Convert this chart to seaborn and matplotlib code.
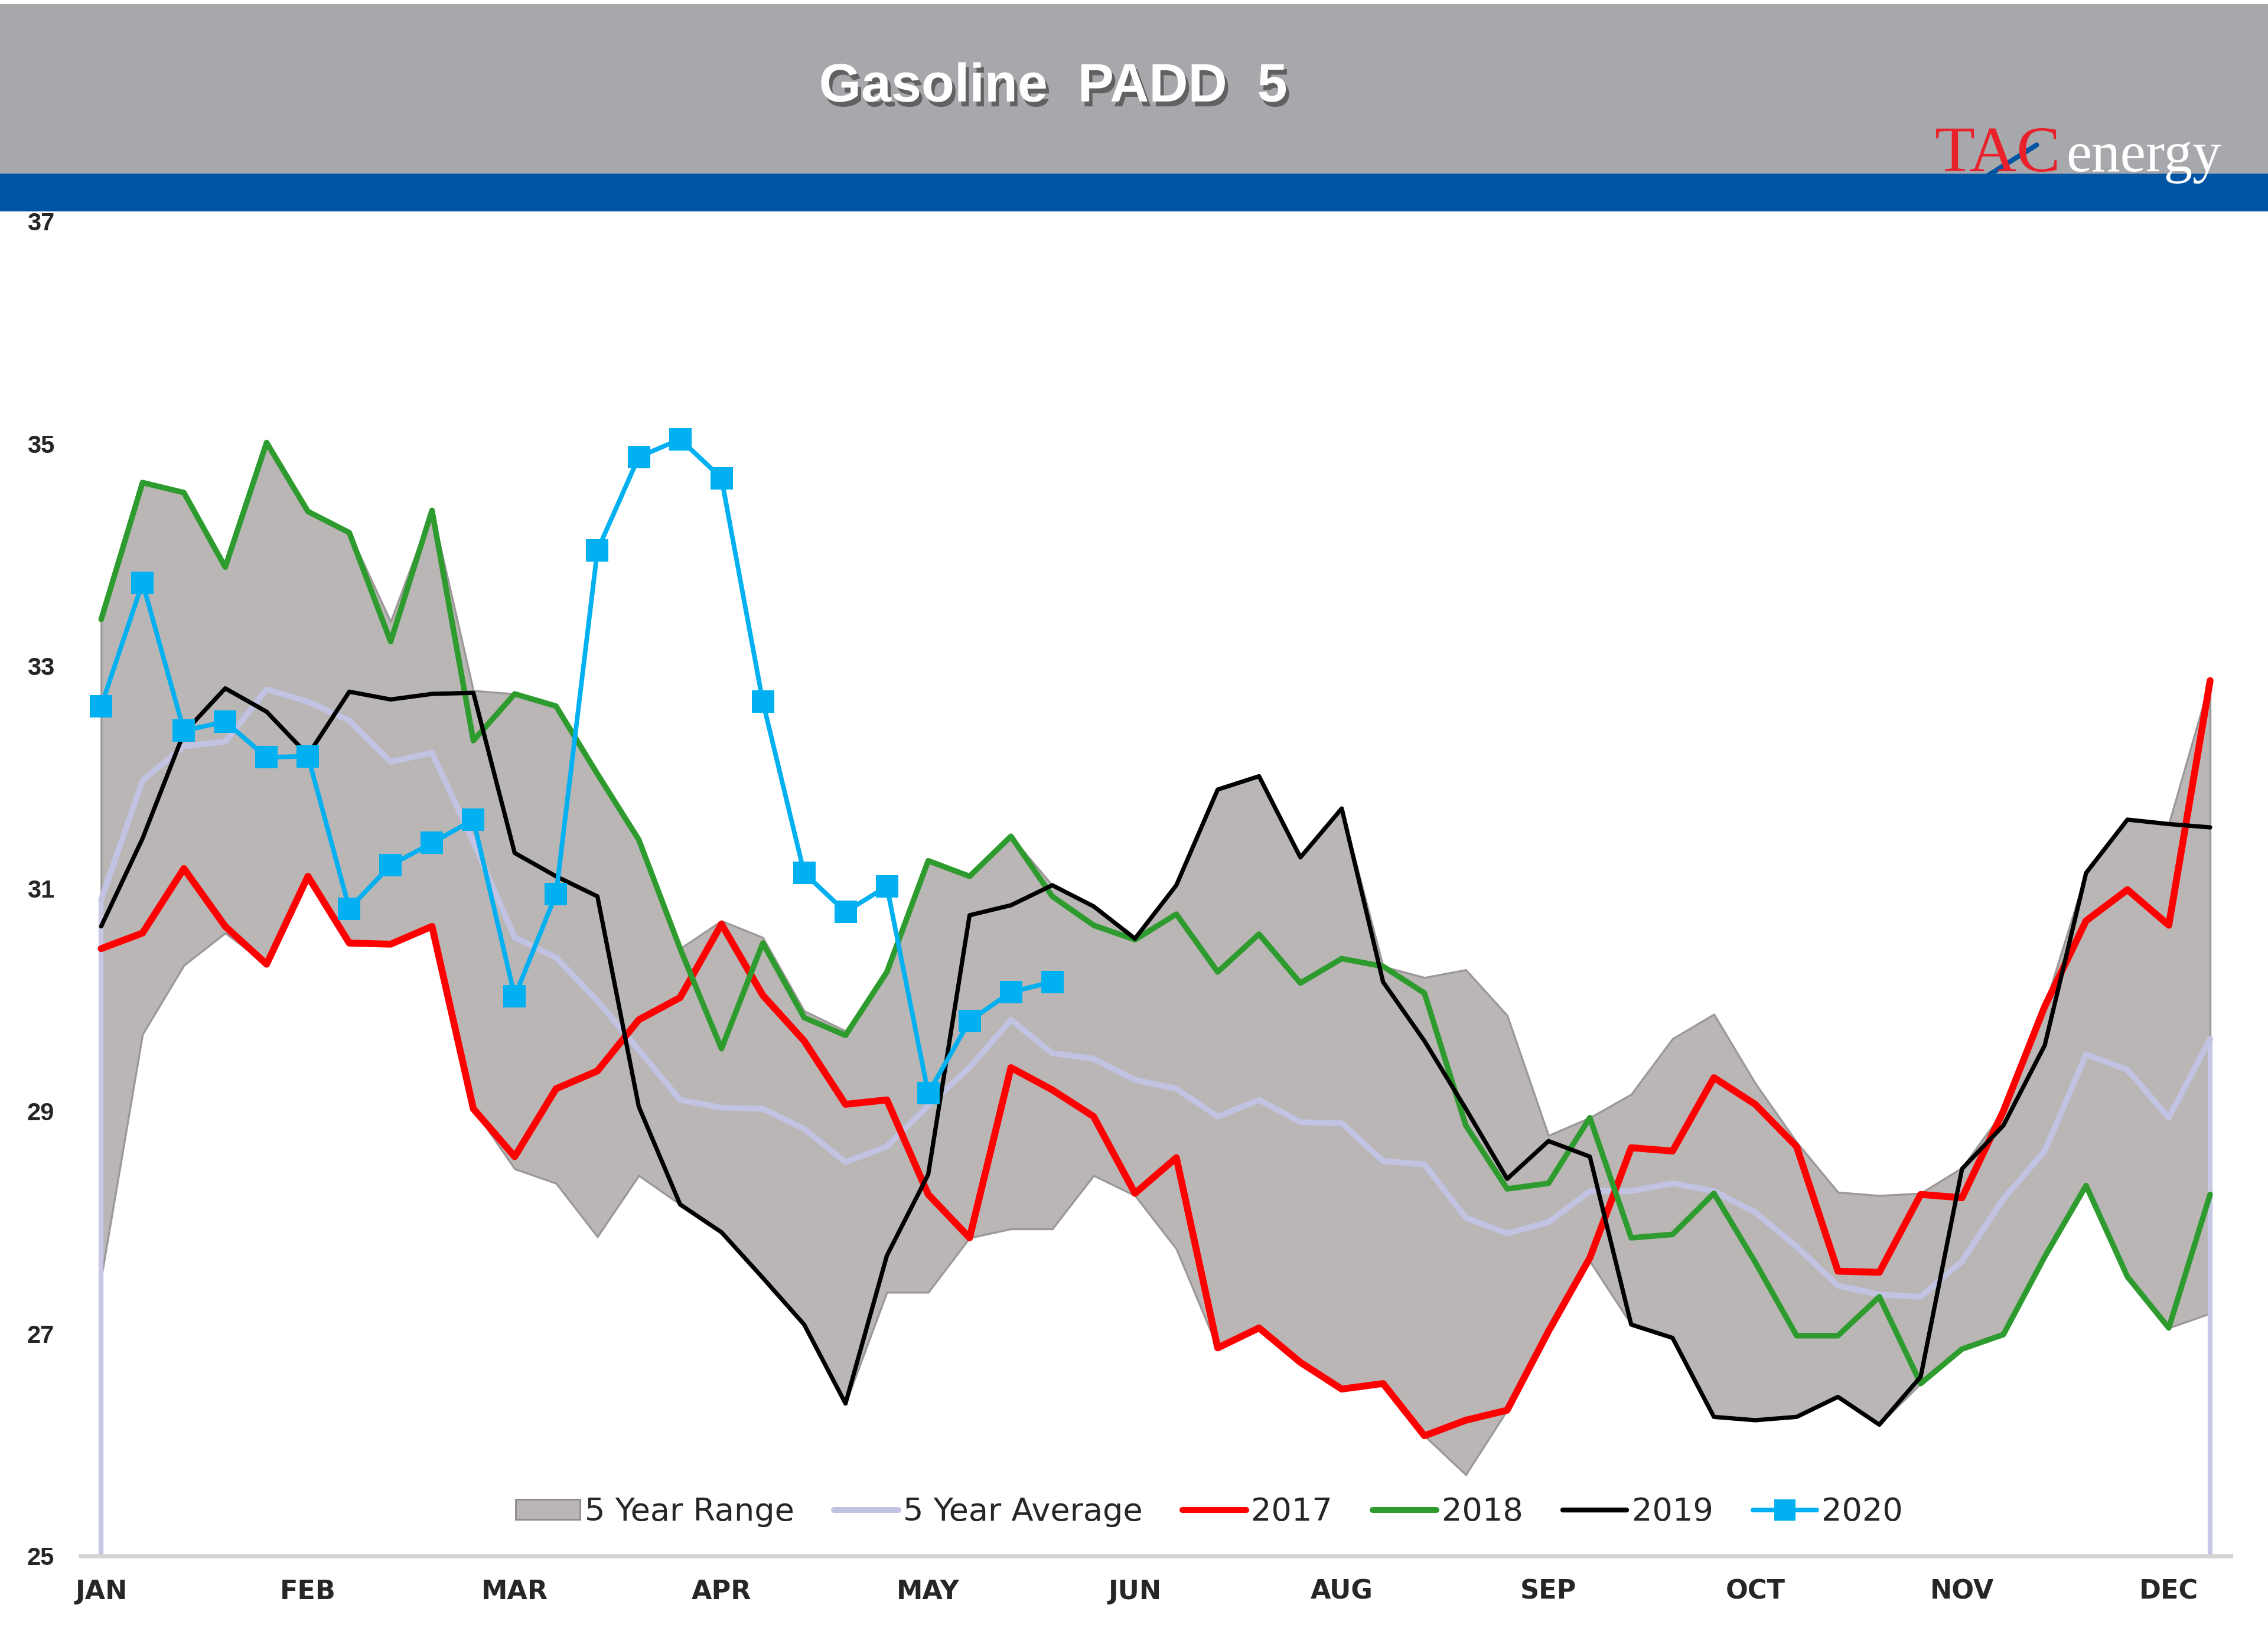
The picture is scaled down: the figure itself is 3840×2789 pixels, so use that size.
import matplotlib
matplotlib.use('Agg')
import matplotlib.pyplot as plt
import matplotlib.patheffects as pe
from matplotlib.patches import Rectangle, Patch
from matplotlib.lines import Line2D
import seaborn as sns

# weekly values (52 weeks)
weeks = list(range(52))
month_labels = ['JAN', 'FEB', 'MAR', 'APR', 'MAY', 'JUN', 'AUG', 'SEP', 'OCT', 'NOV', 'DEC']
y_ticks = [25, 27, 29, 31, 33, 35, 37]

range_hi = [33.42, 34.65, 34.56, 33.89, 35.01, 34.39, 34.20, 33.40, 34.40, 32.78,
            32.75, 32.64, 32.03, 31.44, 30.46, 30.71, 30.56, 29.90, 29.72, 30.25,
            31.25, 31.11, 31.47, 31.03, 30.84, 30.56, 31.03, 31.89, 32.01, 31.28,
            31.72, 30.30, 30.20, 30.27, 29.86, 28.78, 28.94, 29.15, 29.65, 29.87,
            29.25, 28.72, 28.27, 28.24, 28.26, 28.49, 29.00, 29.94, 31.14, 31.62,
            31.58, 32.87]
range_lo = [27.50, 29.69, 30.31, 30.60, 30.32, 31.11, 30.51, 30.50, 30.66, 29.02,
            28.48, 28.35, 27.87, 28.42, 28.16, 27.91, 27.50, 27.08, 26.37, 27.37,
            27.37, 27.86, 27.94, 27.94, 28.42, 28.24, 27.76, 26.87, 27.05, 26.74,
            26.50, 26.55, 26.08, 25.73, 26.31, 27.02, 27.65, 27.08, 26.96, 26.25,
            26.22, 26.25, 26.43, 26.18, 26.55, 26.86, 26.99, 27.69, 28.33, 27.51,
            27.05, 27.18]
avg5 = [30.90, 31.97, 32.28, 32.32, 32.79, 32.68, 32.51, 32.14, 32.22, 31.42,
        30.56, 30.38, 29.99, 29.55, 29.10, 29.03, 29.02, 28.84, 28.54, 28.68,
        29.05, 29.39, 29.82, 29.52, 29.47, 29.28, 29.20, 28.95, 29.10, 28.90,
        28.89, 28.55, 28.52, 28.04, 27.90, 28.00, 28.28, 28.28, 28.35, 28.28,
        28.09, 27.78, 27.43, 27.35, 27.33, 27.65, 28.21, 28.64, 29.51, 29.37,
        28.94, 29.65]
y2017 = [30.46, 30.60, 31.18, 30.66, 30.32, 31.11, 30.51, 30.50, 30.66, 29.02,
         28.59, 29.20, 29.36, 29.82, 30.02, 30.68, 30.04, 29.63, 29.06, 29.10,
         28.25, 27.86, 29.39, 29.19, 28.95, 28.26, 28.58, 26.87, 27.05, 26.74,
         26.50, 26.55, 26.08, 26.22, 26.31, 27.02, 27.68, 28.67, 28.64, 29.30,
         29.06, 28.68, 27.56, 27.55, 28.25, 28.22, 29.00, 29.94, 30.71, 30.99,
         30.67, 32.87]
y2018 = [33.42, 34.65, 34.56, 33.89, 35.01, 34.39, 34.20, 33.22, 34.40, 32.33,
         32.75, 32.64, 32.03, 31.44, 30.46, 29.56, 30.51, 29.84, 29.68, 30.25,
         31.25, 31.11, 31.47, 30.93, 30.67, 30.54, 30.77, 30.25, 30.59, 30.15,
         30.37, 30.30, 30.06, 28.87, 28.30, 28.35, 28.94, 27.86, 27.89, 28.26,
         27.64, 26.98, 26.98, 27.33, 26.55, 26.86, 26.99, 27.69, 28.33, 27.51,
         27.05, 28.25]
y2019 = [30.66, 31.45, 32.40, 32.80, 32.59, 32.20, 32.77, 32.70, 32.75, 32.76,
         31.32, 31.11, 30.93, 29.04, 28.16, 27.91, 27.50, 27.08, 26.37, 27.70,
         28.43, 30.76, 30.85, 31.03, 30.84, 30.55, 31.03, 31.89, 32.01, 31.28,
         31.72, 30.16, 29.63, 29.02, 28.39, 28.73, 28.59, 27.08, 26.96, 26.25,
         26.22, 26.25, 26.43, 26.18, 26.61, 28.48, 28.87, 29.59, 31.14, 31.62,
         31.58, 31.55]
y2020 = [32.64, 33.75, 32.42, 32.50, 32.18, 32.19, 30.82, 31.21, 31.41, 31.62,
         30.03, 30.95, 34.04, 34.88, 35.04, 34.69, 32.68, 31.14, 30.79, 31.02,
         29.16, 29.81, 30.07, 30.16]

sns.set_style('white')
plt.rcParams['font.family'] = ['DejaVu Sans']

fig = plt.figure(figsize=(19.2, 13.945), dpi=200)

# header band
fig.patches.append(Rectangle((0, 0.8946), 1, 0.1028, transform=fig.transFigure,
                             facecolor='#A7A8AC', edgecolor='none', zorder=0))
fig.patches.append(Rectangle((0, 0.8718), 1, 0.0228, transform=fig.transFigure,
                             facecolor='#0054A4', edgecolor='none', zorder=0))
fig.text(0.4643, 0.947, 'Gasoline  PADD  5', ha='center', va='center', color='white',
         fontsize=33, fontweight='bold', family='Liberation Sans',
         path_effects=[pe.SimplePatchShadow(offset=(2, -3), shadow_rgbFace='#5a5a5a', alpha=0.9),
                       pe.Normal()])
fig.text(0.853, 0.896, 'TAC', ha='left', va='baseline', color='#E8212B',
         fontsize=40, family='Liberation Serif')
fig.text(0.911, 0.896, 'energy', ha='left', va='baseline', color='white',
         fontsize=35, family='Liberation Serif')
fig.add_artist(Line2D([0.876, 0.898], [0.893, 0.912], transform=fig.transFigure,
                      color='#0054A4', lw=3))

ax = fig.add_axes([0.0355, 0.0553, 0.9481, 0.8104])

ax.fill_between(weeks, range_lo, range_hi, color='#BAB6B5', edgecolor='#9C9897',
                linewidth=1.2, zorder=1)
ax.vlines([weeks[0], weeks[-1]], y_ticks[0], [avg5[0], avg5[-1]], color='#C8C8E4', lw=3, zorder=2)
sns.lineplot(x=weeks, y=avg5, ax=ax, color='#C2C2E2', lw=3.6, zorder=3)
sns.lineplot(x=weeks, y=y2017, ax=ax, color='#FF0000', lw=4.2, zorder=4)
sns.lineplot(x=weeks, y=y2018, ax=ax, color='#2E9B2E', lw=3.4, zorder=5)
sns.lineplot(x=weeks, y=y2019, ax=ax, color='#000000', lw=2.6, zorder=6)
sns.lineplot(x=weeks[:len(y2020)], y=y2020, ax=ax, color='#00B0F0', lw=2.8, zorder=7,
             marker='s', markersize=14, markeredgewidth=0)

ax.set_xlim(-0.5, 51.5)
ax.set_ylim(25, 37)
ax.set_xticks(weeks[::5])
ax.set_xticklabels(month_labels, fontsize=16, fontweight='bold')
ax.set_yticks(y_ticks)
ax.set_yticklabels([str(v) for v in y_ticks], fontsize=15, fontweight='bold',
                   family='Liberation Sans')
ax.tick_params(axis='x', length=0, pad=14)
ax.tick_params(axis='y', length=0, pad=16)
ax.set_xlabel('')
ax.set_ylabel('')
for side in ['top', 'right', 'left']:
    ax.spines[side].set_visible(False)
ax.spines['bottom'].set_color('#D4D4D4')
ax.spines['bottom'].set_linewidth(2.5)

handles = [
    Patch(facecolor='#BAB6B5', edgecolor='#8E8A8A', linewidth=1),
    Line2D([], [], color='#C2C2E2', lw=3.6),
    Line2D([], [], color='#FF0000', lw=3.6),
    Line2D([], [], color='#2E9B2E', lw=3.6),
    Line2D([], [], color='#000000', lw=3.0),
    Line2D([], [], color='#00B0F0', lw=2.8, marker='s', markersize=13, markeredgewidth=0),
]
labels = ['5 Year Range', '5 Year Average', '2017', '2018', '2019', '2020']
ax.legend(handles, labels, loc='lower center', bbox_to_anchor=(0.525, 0.0), ncol=6,
          frameon=False, fontsize=19.5, handlelength=2.0, handletextpad=0.15,
          columnspacing=1.25, handleheight=0.6)

fig.savefig('out.png', dpi=200, facecolor='white')
